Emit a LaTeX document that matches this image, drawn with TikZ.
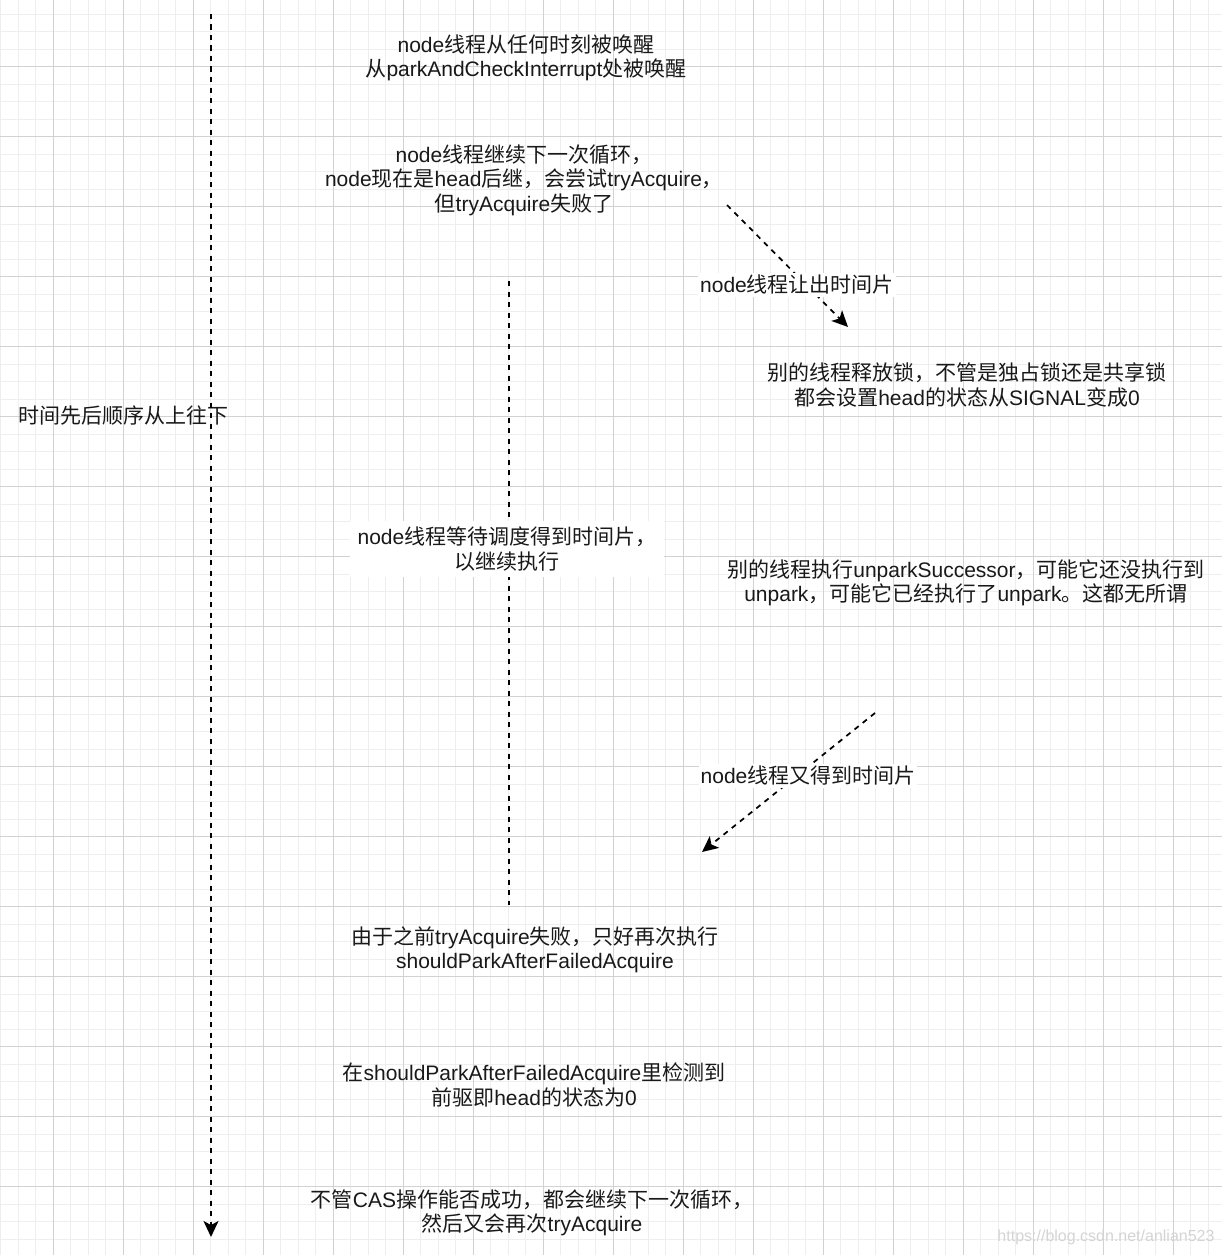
\documentclass[tikz,border=0pt]{standalone}
\usepackage{fontspec}
\setmainfont{Liberation Sans}
\newfontfamily\latf{Liberation Sans}
\newfontfamily\cjkf{Noto Sans CJK SC}
\usetikzlibrary{arrows.meta}
\XeTeXinterchartokenstate=1
\newXeTeXintercharclass\CJKc
\count255="3000
\loop\XeTeXcharclass\count255=\CJKc \advance\count255 by 1 \ifnum\count255<"3040 \repeat
\count255="4E00
\loop\XeTeXcharclass\count255=\CJKc \advance\count255 by 1 \ifnum\count255<"A000 \repeat
\count255="FF00
\loop\XeTeXcharclass\count255=\CJKc \advance\count255 by 1 \ifnum\count255<"FFF0 \repeat
\XeTeXinterchartoks 0 \CJKc = {\cjkf}
\XeTeXinterchartoks 4095 \CJKc = {\cjkf}
\XeTeXinterchartoks \CJKc 0 = {\latf}
\XeTeXinterchartoks \CJKc 4095 = {\latf}
\definecolor{gmajor}{RGB}{210,210,210}
\definecolor{gminor}{RGB}{238,238,238}
\definecolor{txt}{RGB}{25,25,25}
\definecolor{wm}{RGB}{212,212,212}
\tikzset{
  txtnode/.style={align=center, text=txt, font=\fontsize{21}{24.5}\selectfont, inner sep=0pt},
  lbl/.style={txtnode, fill=white, inner sep=2pt},
  dline/.style={draw=black, line width=1.75pt, dash pattern=on 5.25pt off 5.25pt},
  darrow/.style={dline, -{Stealth[length=16pt,width=15pt,inset=4pt]}},
  gridminor/.style={draw=gminor, line width=1pt},
  gridmajor/.style={draw=gmajor, line width=1pt},
}
\begin{document}
\begin{tikzpicture}[x=1pt,y=-1pt]
\useasboundingbox (0,0) rectangle (1222,1255);
\fill[white] (0,0) rectangle (1222,1255);
% grid
\foreach \i in {0,...,70} {
  \draw[gridminor] ({0.83+17.5*\i},0) -- ({0.83+17.5*\i},1255);
}
\foreach \i in {0,...,72} {
  \draw[gridminor] (0,{-3.33+17.5*\i}) -- (1222,{-3.33+17.5*\i});
}
\foreach \i in {0,...,17} {
  \draw[gridmajor] ({53.33+70*\i},0) -- ({53.33+70*\i},1255);
  \draw[gridmajor] (0,{66.67+70*\i}) -- (1222,{66.67+70*\i});
}
% connectors
\coordinate (ltop) at (211,14);
\coordinate (lbot) at (211,1237);
\coordinate (mtop) at (509,281);
\coordinate (mbot) at (509,905);
\coordinate (a1s) at (727,205);
\coordinate (a1e) at (848,327);
\coordinate (a2s) at (875,713);
\coordinate (a2e) at (702,852);
\node[txtnode] (tl) at (123,416) {时间先后顺序从上往下};
\draw[darrow] (ltop) -- (lbot);
\draw[dline] (mtop) -- (mbot);
\draw[darrow] (a1s) -- (a1e);
\draw[darrow] (a2s) -- (a2e);
\node[lbl] (l1) at (797,285) {node线程让出时间片};
\node[lbl] (l2) at (808,776) {node线程又得到时间片};
% texts
\node[txtnode] (t1) at (526,58) {node线程从任何时刻被唤醒\\从parkAndCheckInterrupt处被唤醒};
\node[txtnode] (t2) at (524,180) {node线程继续下一次循环，\\node现在是head后继，会尝试tryAcquire，\\但tryAcquire失败了};
\node[txtnode] (t3) at (967,385) {别的线程释放锁，不管是独占锁还是共享锁\\都会设置head的状态从SIGNAL变成0};
\node[txtnode, fill=white, inner xsep=8pt, inner ysep=6pt] (t4) at (507,549) {node线程等待调度得到时间片，\\以继续执行};
\node[txtnode] (t5) at (966,583) {别的线程执行unparkSuccessor，可能它还没执行到\\unpark，可能它已经执行了unpark。这都无所谓};
\node[txtnode] (t6) at (535,950) {由于之前tryAcquire失败，只好再次执行\\shouldParkAfterFailedAcquire};
\node[txtnode] (t7) at (534,1085) {在shouldParkAfterFailedAcquire里检测到\\前驱即head的状态为0};
\node[txtnode] (t8) at (532,1213) {不管CAS操作能否成功，都会继续下一次循环，\\然后又会再次tryAcquire};
\node[text=wm, font=\fontsize{16}{19}\selectfont, inner sep=0pt] (wm) at (1106,1237) {https://blog.csdn.net/anlian523};
\end{tikzpicture}
\end{document}
